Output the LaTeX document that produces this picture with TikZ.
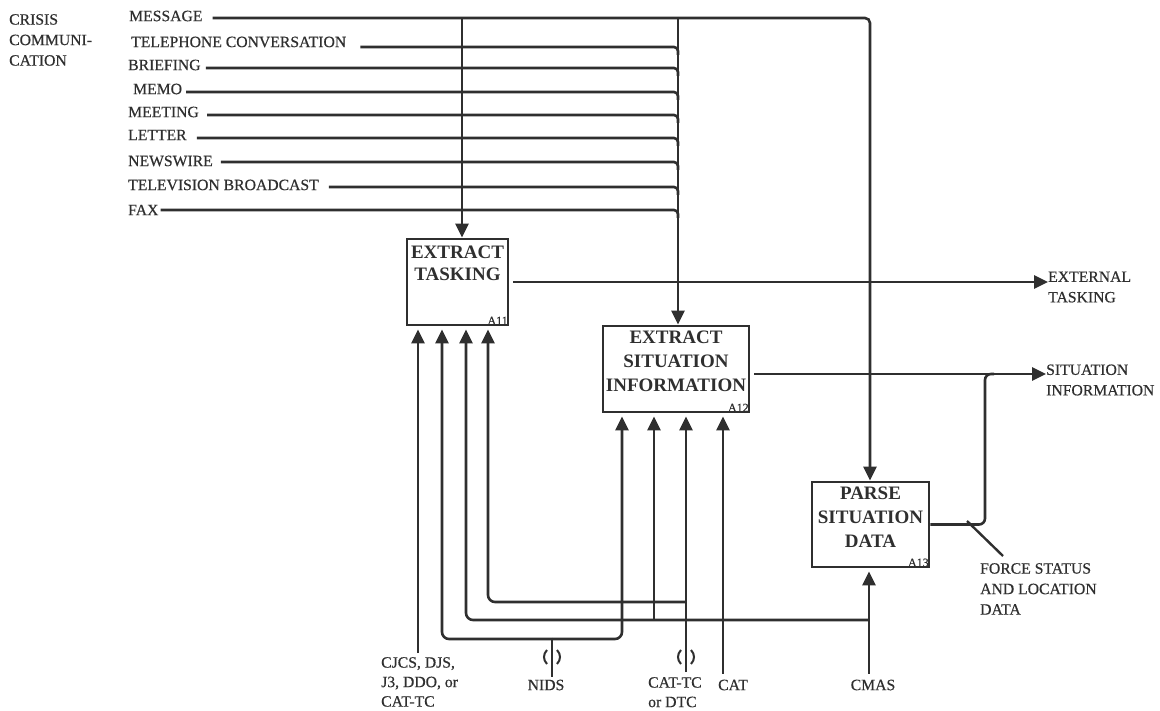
\documentclass[tikz,border=0pt]{standalone}
\usepackage{fontspec}
\setmainfont{Liberation Serif}
\newfontfamily\scanfont[FakeBold=0.5]{Liberation Serif}
\usetikzlibrary{arrows.meta}
\definecolor{ink}{HTML}{2f2f2f}
\begin{document}
\begin{tikzpicture}[x=1pt,y=-1pt,
  wire/.style={draw=ink,line width=2.6pt},
  arr/.style={wire,-{Triangle[length=14pt,width=13pt]}},
  lbl/.style={font=\scanfont\fontsize{15.7}{20.5}\selectfont,text=ink,inner sep=0pt,align=left},
  lblb/.style={lbl,font=\scanfont\fontsize{15.7}{19.5}\selectfont},
  boxnode/.style={draw=ink,line width=2.8pt,inner sep=0pt},
  boxtxt/.style={font=\fontsize{19}{24}\selectfont\bfseries,text=ink,inner sep=0pt,align=center},
  anum/.style={font=\scanfont\fontsize{12}{12}\selectfont,text=ink,inner sep=1.5pt,anchor=south east},
  tunnel/.style={draw=ink,line width=2pt}
]
\useasboundingbox[fill=white] (0,0) rectangle (1160,711);

% ---- boxes
\node[boxnode,minimum width=101pt,minimum height=86pt] (A11) at (457.5,282) {};
\node[boxnode,minimum width=146pt,minimum height=86pt] (A12) at (676,369) {};
\node[boxnode,minimum width=117pt,minimum height=85pt] (A13) at (870.5,524.5) {};
\node[boxtxt,font=\fontsize{19}{22}\selectfont\bfseries] (t11) at (457.5,263) {EXTRACT\\TASKING};
\node[boxtxt] (t12) at (676,361) {EXTRACT\\SITUATION\\INFORMATION};
\node[boxtxt] (t13) at (870.5,517) {PARSE\\SITUATION\\DATA};
\node[anum] (n11) at (A11.south east) {A11};
\node[anum] (n12) at (A12.south east) {A12};
\node[anum] (n13) at (A13.south east) {A13};

% ---- left labels
\node[lbl,anchor=north west] (crisis) at (9,14) {CRISIS\\COMMUNI-\\CATION};
\node[lbl,anchor=west] (msg) at (129,16) {MESSAGE};
\node[lbl,anchor=west] (tel) at (131,42) {TELEPHONE CONVERSATION};
\node[lbl,anchor=west] (brf) at (128,65) {BRIEFING};
\node[lbl,anchor=west] (memo) at (133,89) {MEMO};
\node[lbl,anchor=west] (meet) at (128,112) {MEETING};
\node[lbl,anchor=west] (let) at (128,135) {LETTER};
\node[lbl,anchor=west] (news) at (128,161) {NEWSWIRE};
\node[lbl,anchor=west] (tv) at (128,185) {TELEVISION BROADCAST};
\node[lbl,anchor=west] (fax) at (128,210) {FAX};

% ---- junction coordinates
\coordinate (m1) at (462,18);
\coordinate (m2) at (678,18);
\coordinate (m3) at (870,18);
\coordinate (jTel) at (678,47);
\coordinate (jBrf) at (678,68);
\coordinate (jMemo) at (678,92);
\coordinate (jMeet) at (678,115);
\coordinate (jLet) at (678,138);
\coordinate (jNews) at (678,162);
\coordinate (jTv) at (678,187);
\coordinate (jFax) at (678,210);

% ---- top inputs
\draw[arr,rounded corners=5,shorten <=10pt] (msg.east |- m1) -- (m3) -- (m3 |- A13.north);
\draw[arr] (m1) -- (m1 |- A11.north);
\draw[arr] (m2) -- (m2 |- A12.north);
\draw[wire,rounded corners=4,shorten <=14pt] (tel.east |- jTel) -- (jTel) -- ++(0,8);
\draw[wire,rounded corners=4,shorten <=5pt] (brf.east |- jBrf) -- (jBrf) -- ++(0,8);
\draw[wire,rounded corners=4,shorten <=4pt] (memo.east |- jMemo) -- (jMemo) -- ++(0,8);
\draw[wire,rounded corners=4,shorten <=8pt] (meet.east |- jMeet) -- (jMeet) -- ++(0,8);
\draw[wire,rounded corners=4,shorten <=10pt] (let.east |- jLet) -- (jLet) -- ++(0,8);
\draw[wire,rounded corners=4,shorten <=8pt] (news.east |- jNews) -- (jNews) -- ++(0,8);
\draw[wire,rounded corners=4,shorten <=10pt] (tv.east |- jTv) -- (jTv) -- ++(0,8);
\draw[wire,rounded corners=4,shorten <=2pt] (fax.east |- jFax) -- (jFax) -- ++(0,8);

% ---- right labels and outputs
\node[lbl,anchor=west] (ext) at (1048,287) {EXTERNAL\\TASKING};
\node[lbl,anchor=west] (sit) at (1046,380) {SITUATION\\INFORMATION};
\node[lbl,anchor=north west] (force) at (980,563) {FORCE STATUS\\AND LOCATION\\DATA};
\coordinate (sJ) at (985,374);
\draw[arr,shorten <=4pt] (A11.east) -- (A11.east -| ext.west);
\draw[arr,shorten <=4pt] (A12.east |- sJ) -- (sJ -| sit.west);
\draw[wire,rounded corners=6] (A13.east) -- (A13.east -| sJ) -- (sJ) -- ++(9,0);
\coordinate (tk1) at (967,521);
\coordinate (tk2) at (1003,556);
\draw[wire,line width=2.4pt] (tk1) -- (tk2);

% ---- bottom labels
\node[lblb,anchor=north west] (cjcs) at (381,657) {CJCS, DJS,\\J3, DDO, or\\CAT-TC};
\node[lblb] (nids) at (546,685) {NIDS};
\node[lblb,anchor=north west] (cattc) at (648,677) {CAT-TC\\or DTC};
\node[lblb] (cat) at (733,685) {CAT};
\node[lblb] (cmas) at (873,685) {CMAS};

% ---- bottom columns
\coordinate (c1) at (418,0);
\coordinate (c2) at (442,0);
\coordinate (c3) at (466,0);
\coordinate (c4) at (488,0);
\coordinate (d1) at (622,0);
\coordinate (d2) at (654,0);
\coordinate (d3) at (686,0);
\coordinate (d4) at (723,0);
\coordinate (nx) at (552,0);
\coordinate (cx) at (869,0);
\coordinate (nJ) at (552,639);
\coordinate (cJ) at (869,620);
\coordinate (tJ) at (686,602);

% CJCS
\draw[arr,shorten <=4pt,shorten >=3pt] (cjcs.north -| c1) -- (c1 |- A11.south);
% NIDS
\draw[wire,shorten <=3pt] (nids.north -| nx) -- (nJ);
\draw[arr,rounded corners=7,shorten >=3pt] (nJ) -- (nJ -| c2) -- (c2 |- A11.south);
\draw[arr,rounded corners=7,shorten >=3pt] (nJ) -- (nJ -| d1) -- (d1 |- A12.south);
\draw[tunnel] (547,650) .. controls (543,654) and (543,660) .. (547,664);
\draw[tunnel] (557,650) .. controls (561,654) and (561,660) .. (557,664);
% CMAS
\draw[arr,shorten <=6pt,shorten >=3pt] (cmas.north -| cx) -- (cx |- A13.south);
\draw[arr,rounded corners=7,shorten >=3pt] (cJ) -- (cJ -| c3) -- (c3 |- A11.south);
\draw[arr,shorten >=3pt] (cJ -| d2) -- (d2 |- A12.south);
% CAT-TC or DTC
\draw[arr,shorten <=5pt,shorten >=3pt] (cattc.north -| d3) -- (d3 |- A12.south);
\draw[arr,rounded corners=7,shorten >=3pt] (tJ) -- (tJ -| c4) -- (c4 |- A11.south);
\draw[tunnel] (681,650) .. controls (677,654) and (677,660) .. (681,664);
\draw[tunnel] (691,650) .. controls (695,654) and (695,660) .. (691,664);
% CAT
\draw[arr,shorten <=6pt,shorten >=3pt] (cat.north -| d4) -- (d4 |- A12.south);
\end{tikzpicture}
\end{document}
